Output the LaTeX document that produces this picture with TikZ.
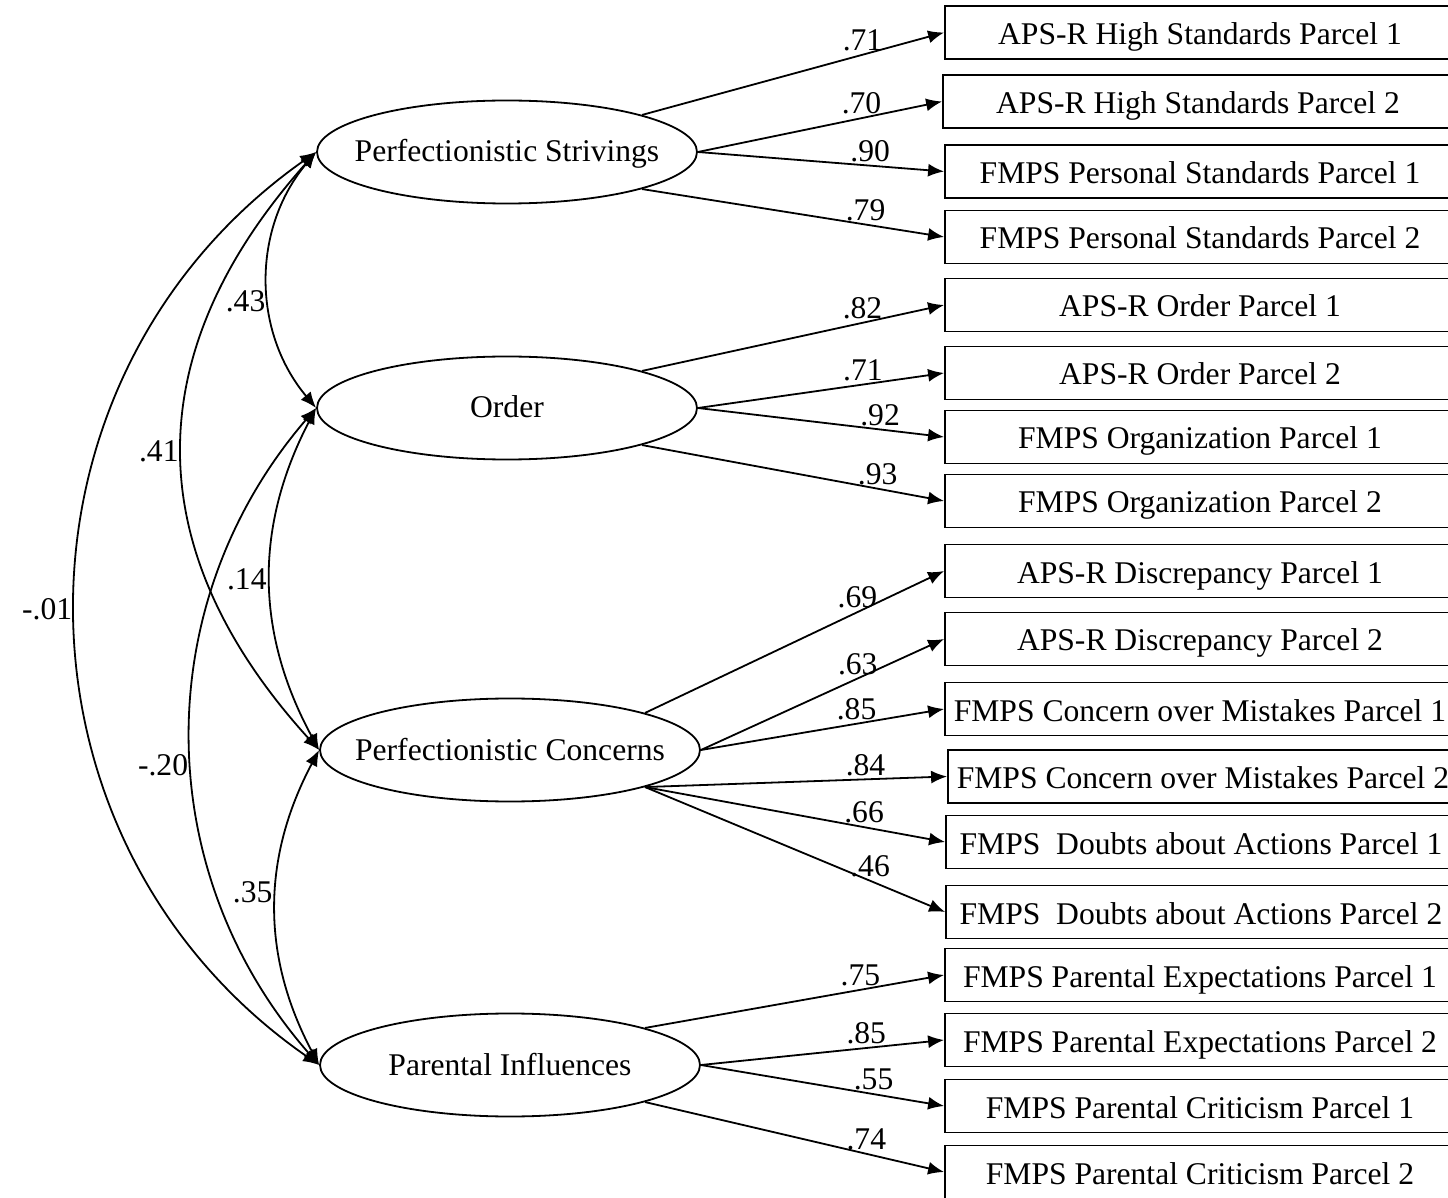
\documentclass[tikz,border=0pt]{standalone}
\usepackage{fontspec}
\setmainfont{Liberation Serif}
\usetikzlibrary{shapes.geometric,arrows.meta}

\begin{document}
\begin{tikzpicture}[x=0.5pt,y=-0.5pt,line width=0.9pt,
  >={Latex[length=8pt,width=6.5pt]},
  font=\fontsize{15.8}{19}\selectfont,
  latent/.style={ellipse,draw,minimum width=190pt,minimum height=51.5pt,inner sep=0pt,text height=10pt,text depth=0pt},
  item/.style={rectangle,draw,minimum width=255pt,minimum height=26.5pt,inner sep=1.5pt,text height=12pt,text depth=0pt},
  coef/.style={inner sep=1.5pt}]
\useasboundingbox (0,0) rectangle (1448,1198);

\node[latent](1) at(507,152){\makebox[0pt]{Perfectionistic Strivings}};
\node[latent](2) at(507,408){\makebox[0pt]{Order}};
\node[latent](3) at(510,750){\makebox[0pt]{Perfectionistic Concerns}};
\node[latent](4) at(510,1065){\makebox[0pt]{Parental Influences}};

\node[item](5) at(1200,32.5){APS-R High Standards Parcel 1};
\node[item](6) at(1198,101.5){APS-R High Standards Parcel 2};
\node[item](7) at(1200,171.5){FMPS Personal Standards Parcel 1};
\node[item](8) at(1200,237){FMPS Personal Standards Parcel 2};
\node[item](9) at(1200,305){APS-R Order Parcel 1};
\node[item](10) at(1200,373){APS-R Order Parcel 2};
\node[item](11) at(1200,437){FMPS Organization Parcel 1};
\node[item](12) at(1200,501){FMPS Organization Parcel 2};
\node[item](13) at(1200,571){APS-R Discrepancy Parcel 1};
\node[item](14) at(1200,639){APS-R Discrepancy Parcel 2};
\node[item](15) at(1200,709){FMPS Concern over Mistakes Parcel 1};
\node[item](16) at(1203,776.5){FMPS Concern over Mistakes Parcel 2};
\node[item](17) at(1201,842){FMPS\ \ Doubts about Actions Parcel 1};
\node[item](18) at(1201,912){FMPS\ \ Doubts about Actions Parcel 2};
\node[item](19) at(1200,975){FMPS Parental Expectations Parcel 1};
\node[item](20) at(1200,1040){FMPS Parental Expectations Parcel 2};
\node[item](21) at(1200,1106){FMPS Parental Criticism Parcel 1};
\node[item](22) at(1200,1172){FMPS Parental Criticism Parcel 2};

\draw [->](1.north east)--(5.west) node[coef,pos=0.73,above]{.71};
\draw [->](1.east)--(6.west) node[coef,pos=0.67,above]{.70};
\draw [->](1.east)--(7.west) node[coef,pos=0.70,above]{.90};
\draw [->](1.south east)--(8.west) node[coef,pos=0.74,above]{.79};
\draw [->](2.north east)--(9.west) node[coef,pos=0.73,above]{.82};
\draw [->](2.east)--(10.west) node[coef,pos=0.67,above]{.71};
\draw [->](2.east)--(11.west) node[coef,pos=0.74,above]{.92};
\draw [->](2.south east)--(12.west) node[coef,pos=0.78,above]{.93};
\draw [->](3.north east)--(13.west) node[coef,pos=0.71,above]{.69};
\draw [->](3.east)--(14.west) node[coef,pos=0.645,above]{.63};
\draw [->](3.east)--(15.west) node[coef,pos=0.64,above]{.85};
\draw [->](3.south east)--(16.west) node[coef,pos=0.73,above]{.84};
\draw [->](3.south east)--(17.west) node[coef,pos=0.73,above]{.66};
\draw [->](3.south east)--(18.west) node[coef,pos=0.75,above]{.46};
\draw [->](4.north east)--(19.west) node[coef,pos=0.72,above]{.75};
\draw [->](4.east)--(20.west) node[coef,pos=0.68,above]{.85};
\draw [->](4.east)--(21.west) node[coef,pos=0.71,above]{.55};
\draw [->](4.south east)--(22.west) node[coef,pos=0.74,above]{.74};

\draw [<->](1.west) to[bend right=40] node[coef,pos=0.58,left]{.43} (2.west);
\draw [<->](1.west) to[bend right=42,looseness=1.15] node[coef,pos=0.5,left]{.41} (3.west);
\draw [<->](1.west) to[bend right=55,looseness=1.1] node[coef,pos=0.5,left]{-.01} (4.west);
\draw [<->](2.west) to[bend right=28] node[coef,pos=0.5,left]{.14} (3.west);
\draw [<->](2.west) to[bend right=41] node[coef,pos=0.54,left]{-.20} (4.west);
\draw [<->](3.west) to[bend right=28] node[coef,pos=0.45,left]{.35} (4.west);
\end{tikzpicture}
\end{document}
